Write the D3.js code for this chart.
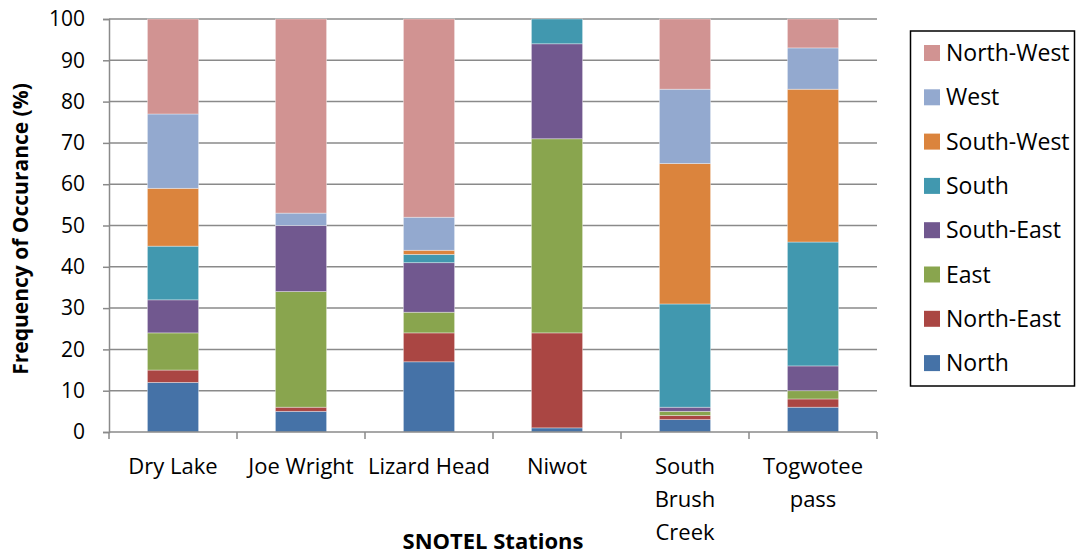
<!DOCTYPE html>
<html>
<head>
<meta charset="utf-8">
<script src="https://cdn.jsdelivr.net/npm/d3@7"></script>
<style>
html,body{margin:0;padding:0;background:#fff;}
text{font-family:"Open Sans","Noto Sans",sans-serif;}
</style>
</head>
<body>
<svg id="chart" width="1077" height="555"></svg>
<script>
const stations = ["Dry Lake", "Joe Wright", "Lizard Head", "Niwot", "South Brush Creek", "Togwotee pass"];
const stationLines = [["Dry Lake"], ["Joe Wright"], ["Lizard Head"], ["Niwot"], ["South", "Brush", "Creek"], ["Togwotee", "pass"]];
const directions = ["North", "North-East", "East", "South-East", "South", "South-West", "West", "North-West"];
const colors = ["#4572A7", "#AA4643", "#89A54E", "#71588F", "#4198AF", "#DB843D", "#93A9CF", "#D19392"];
const north     = [12, 5, 17, 1, 3, 6];
const northEast = [3, 1, 7, 23, 1, 2];
const east      = [9, 28, 5, 47, 1, 2];
const southEast = [8, 16, 12, 23, 1, 6];
const south     = [13, 0, 2, 6, 25, 30];
const southWest = [14, 0, 1, 0, 34, 37];
const west      = [18, 3, 8, 0, 18, 10];
const northWest = [23, 47, 48, 0, 17, 7];
const yTicks = [0, 10, 20, 30, 40, 50, 60, 70, 80, 90, 100];

const seriesValues = [north, northEast, east, southEast, south, southWest, west, northWest];
const rows = stations.map((s, i) => {
  const r = {station: s};
  directions.forEach((d, j) => r[d] = seriesValues[j][i]);
  return r;
});

const svg = d3.select("#chart");
const x0 = 109, x1 = 877, yTop = 19, yBot = 432;
const x = d3.scaleBand().domain(stations).range([x0, x1]).paddingInner(0.6).paddingOuter(0.3);
const y = d3.scaleLinear().domain([0, 100]).range([yBot, yTop]);
const color = d3.scaleOrdinal().domain(directions).range(colors);

// gridlines
svg.append("g").selectAll("line").data(yTicks.filter(t => t > 0)).join("line")
  .attr("x1", x0).attr("x2", x1)
  .attr("y1", d => y(d)).attr("y2", d => y(d))
  .attr("stroke", "#8a8a8a").attr("stroke-width", 1.5);

// bars
const stack = d3.stack().keys(directions)(rows);
svg.append("g").selectAll("g").data(stack).join("g")
  .attr("fill", d => color(d.key))
  .selectAll("rect").data(d => d).join("rect")
  .attr("x", d => x(d.data.station))
  .attr("width", x.bandwidth())
  .attr("y", d => y(d[1]))
  .attr("height", d => y(d[0]) - y(d[1]))
  .attr("stroke", "rgba(255,255,255,0.45)")
  .attr("stroke-width", 0.8);

// y axis
const yAxis = svg.append("g").attr("transform", `translate(${x0},0)`)
  .call(d3.axisLeft(y).tickValues(yTicks).tickSize(6).tickPadding(18));
yAxis.select(".domain").attr("stroke", "#8a8a8a").attr("stroke-width", 1.5);
yAxis.selectAll(".tick line").attr("stroke", "#8a8a8a").attr("stroke-width", 1.5);
yAxis.selectAll(".tick text").attr("font-size", 21).attr("fill", "#000")
  .attr("font-family", "'Open Sans', sans-serif");

// x axis
const xAxisG = svg.append("g").attr("transform", `translate(0,${yBot})`);
xAxisG.append("line").attr("x1", x0).attr("x2", x1).attr("y1", 0).attr("y2", 0)
  .attr("stroke", "#8a8a8a").attr("stroke-width", 1.5);
const boundaries = d3.range(stations.length + 1).map(i => x0 + i * x.step());
xAxisG.selectAll("line.tk").data(boundaries).join("line").attr("class", "tk")
  .attr("x1", d => d).attr("x2", d => d).attr("y1", 0).attr("y2", 7)
  .attr("stroke", "#8a8a8a").attr("stroke-width", 1.5);
const lbl = xAxisG.selectAll("text.lbl").data(stations).join("text").attr("class", "lbl")
  .attr("text-anchor", "middle").attr("font-size", 22).attr("fill", "#000")
  .attr("x", d => x(d) + x.bandwidth() / 2);
lbl.selectAll("tspan").data((d, i) => stationLines[i]).join("tspan")
  .attr("x", function() { return d3.select(this.parentNode).attr("x"); })
  .attr("y", (d, i) => 42 + i * 33)
  .text(d => d);

// axis titles
svg.append("text").attr("x", (x0 + x1) / 2).attr("y", 549).attr("text-anchor", "middle")
  .attr("font-size", 22).attr("font-weight", "bold").text("SNOTEL Stations");
svg.append("text").attr("transform", "translate(28,229) rotate(-90)").attr("text-anchor", "middle")
  .attr("font-size", 21).attr("font-weight", "bold").text("Frequency of Occurance (%)");

// legend
const lg = svg.append("g");
lg.append("rect").attr("x", 910.5).attr("y", 31).attr("width", 164).attr("height", 355)
  .attr("fill", "#fff").attr("stroke", "#000").attr("stroke-width", 1.5);
const legendOrder = directions.slice().reverse();
const li = lg.selectAll("g.it").data(legendOrder).join("g").attr("class", "it")
  .attr("transform", (d, i) => `translate(924,${53 + i * 44.3})`);
li.append("rect").attr("x", 0).attr("y", -8).attr("width", 16).attr("height", 16).attr("fill", d => color(d));
li.append("text").attr("x", 22).attr("y", 8).attr("font-size", 23).attr("fill", "#000").text(d => d);
</script>
</body>
</html>
